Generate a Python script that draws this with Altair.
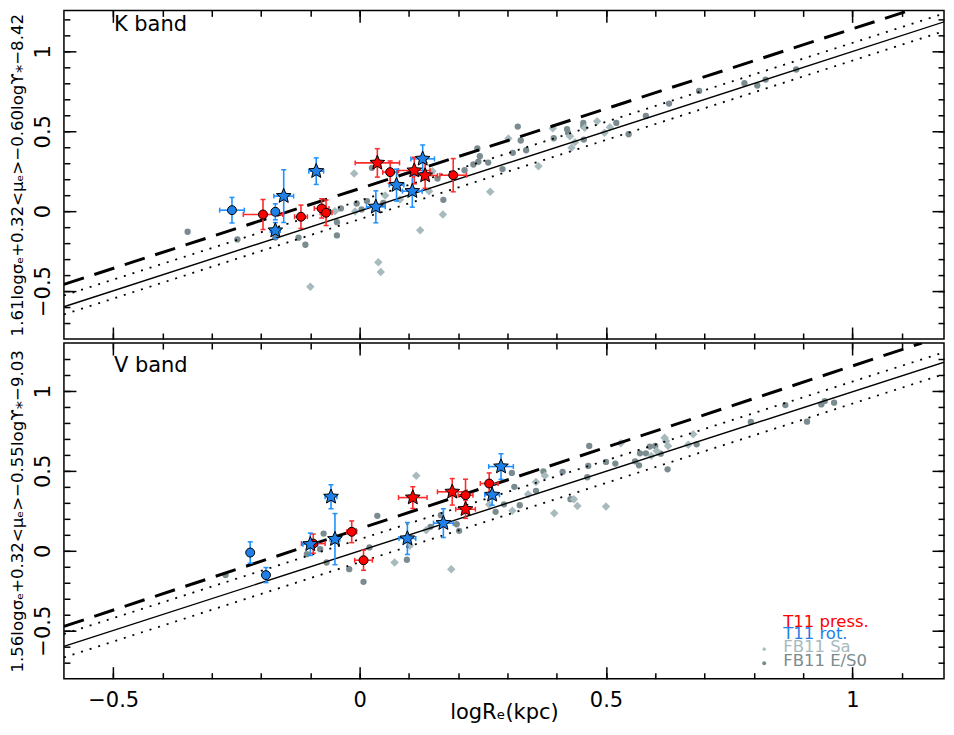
import math
import altair as alt
import pandas as pd

FONT = "DejaVu Sans"
RED = "#ff0000"
RED_ERR = "#ff2a2a"
BLUE = "#1f80e8"
BLUE_ERR = "#1e90ff"
ES0_COL = "#7b8c90"
SA_COL = "#a7babe"

# ---------------- K band ----------------
K_es0_x = [-0.349, -0.248, -0.171, -0.124, -0.110, -0.046, -0.046, -0.038, -0.006, 0.004,
           0.015, 0.025, 0.048, 0.158, 0.170, 0.213, 0.231, 0.239, 0.241, 0.244,
           0.261, 0.290, 0.311, 0.321, 0.327, 0.338, 0.394, 0.421, 0.423, 0.454,
           0.454, 0.455, 0.521, 0.546, 0.581, 0.628, 0.689, 0.781, 0.807, 0.824, 0.886]
K_es0_y = [-0.129, -0.177, -0.165, -0.166, -0.210, -0.069, -0.152, 0.017, 0.048, 0.011,
           0.063, 0.271, 0.052, 0.204, 0.071, 0.256, 0.292, 0.392, 0.309, 0.344,
           0.304, 0.263, 0.365, 0.529, 0.442, 0.381, 0.456, 0.513, 0.490, 0.552,
           0.531, 0.448, 0.552, 0.481, 0.596, 0.673, 0.752, 0.800, 0.786, 0.823, 0.886]
K_sa_x = [-0.100, -0.050, -0.009, -0.011, 0.052, 0.038, 0.043, 0.082, 0.123, 0.141,
          0.148, 0.169, 0.265, 0.302, 0.363, 0.392, 0.427, 0.430, 0.437, 0.457,
          0.482, 0.497, 0.508]
K_sa_y = [-0.473, 0.000, -0.002, 0.236, 0.098, -0.319, -0.381, 0.073, -0.119, 0.125,
          0.250, -0.021, 0.121, 0.454, 0.281, 0.519, 0.469, 0.396, 0.431, 0.521,
          0.563, 0.490, 0.525]

K_press_circ_x = [-0.196, -0.119, -0.077, -0.068, 0.062, 0.190]
K_press_circ_y = [-0.021, -0.035, 0.017, -0.010, 0.244, 0.225]
K_press_circ_xe = [0.040, 0.013, 0.015, 0.012, 0.015, 0.027]
K_press_circ_ye = [0.094, 0.073, 0.060, 0.080, 0.070, 0.104]

K_press_star_x = [0.036, 0.111, 0.133]
K_press_star_y = [0.302, 0.254, 0.223]
K_press_star_xe = [0.045, 0.032, 0.025]
K_press_star_ye = [0.089, 0.083, 0.080]

K_rot_circ_x = [-0.259, -0.171]
K_rot_circ_y = [0.006, -0.004]
K_rot_circ_xe = [0.025, 0.004]
K_rot_circ_ye = [0.080, 0.050]

K_rot_star_x = [-0.171, -0.154, -0.088, 0.033, 0.075, 0.107, 0.128]
K_rot_star_y = [-0.121, 0.094, 0.250, 0.027, 0.163, 0.125, 0.327]
K_rot_star_xe = [0.010, 0.020, 0.015, 0.019, 0.015, 0.020, 0.024]
K_rot_star_ye = [0.050, 0.165, 0.083, 0.100, 0.100, 0.100, 0.087]

# ---------------- V band ----------------
V_es0_x = [-0.272, -0.107, -0.080, -0.073, -0.067, -0.021, 0.008, 0.020, 0.036, 0.096,
           0.144, 0.165, 0.197, 0.202, 0.276, 0.293, 0.309, 0.314, 0.325, 0.358,
           0.373, 0.412, 0.428, 0.462, 0.464, 0.466, 0.500, 0.519, 0.559, 0.567,
           0.569, 0.581, 0.589, 0.600, 0.611, 0.625, 0.684, 0.794, 0.864, 0.908,
           0.937, 0.944, 0.963]
V_es0_y = [-0.152, -0.021, 0.010, 0.108, -0.073, -0.115, -0.194, 0.021, 0.219, -0.056,
           0.150, 0.223, 0.166, 0.125, 0.244, 0.291, 0.487, 0.400, 0.285, 0.375,
           0.496, 0.494, 0.323, 0.460, 0.531, 0.656, 0.556, 0.546, 0.560, 0.535,
           0.610, 0.610, 0.652, 0.656, 0.608, 0.510, 0.666, 0.806, 0.912, 0.808,
           0.916, 0.937, 0.927]
V_sa_x = [0.071, 0.102, 0.115, 0.135, 0.186, 0.263, 0.310, 0.342, 0.358, 0.376,
          0.395, 0.435, 0.442, 0.500, 0.530, 0.592, 0.603, 0.619, 0.622, 0.626,
          0.667, 0.677]
V_sa_y = [-0.073, 0.031, 0.469, 0.129, -0.115, 0.289, 0.250, 0.354, 0.431, 0.469,
          0.235, 0.323, 0.281, 0.277, 0.673, 0.594, 0.625, 0.708, 0.687, 0.656,
          0.664, 0.729]

V_press_circ_x = [-0.094, -0.016, 0.008, 0.215, 0.263]
V_press_circ_y = [0.045, 0.119, -0.059, 0.348, 0.421]
V_press_circ_xe = [0.024, 0.010, 0.018, 0.015, 0.018]
V_press_circ_ye = [0.060, 0.068, 0.063, 0.100, 0.066]

V_press_star_x = [0.108, 0.188, 0.215]
V_press_star_y = [0.333, 0.369, 0.260]
V_press_star_xe = [0.029, 0.030, 0.020]
V_press_star_ye = [0.068, 0.083, 0.057]

V_rot_circ_x = [-0.222, -0.190]
V_rot_circ_y = [-0.011, -0.152]
V_rot_circ_xe = [0.004, 0.004]
V_rot_circ_ye = [0.067, 0.047]

V_rot_star_x = [-0.100, -0.058, -0.050, 0.097, 0.170, 0.269, 0.287]
V_rot_star_y = [0.041, 0.338, 0.073, 0.077, 0.173, 0.350, 0.527]
V_rot_star_xe = [0.015, 0.012, 0.010, 0.017, 0.020, 0.015, 0.025]
V_rot_star_ye = [0.070, 0.075, 0.160, 0.100, 0.090, 0.065, 0.080]

# reference lines: solid / upper dotted / lower dotted / dashed (x end points, y end points)
K_solid_x, K_solid = [-0.6, 1.2], [-0.598, 1.198]
K_dot_hi_x, K_dot_hi = [-0.6, 1.2], [-0.527, 1.250]
K_dot_lo_x, K_dot_lo = [-0.6, 1.2], [-0.646, 1.140]
K_dash_x, K_dash = [-0.6, 1.116], [-0.458, 1.256]
V_solid_x, V_solid = [-0.6, 1.2], [-0.598, 1.194]
V_dot_hi_x, V_dot_hi = [-0.6, 1.2], [-0.520, 1.256]
V_dot_lo_x, V_dot_lo = [-0.6, 1.2], [-0.667, 1.119]
V_dash_x, V_dash = [-0.6, 1.141], [-0.473, 1.300]

legend_labels = ["T11 press.", "T11 rot.", "FB11 Sa", "FB11 E/S0"]
legend_colors = [RED, BLUE, SA_COL, ES0_COL]

K_title = "1.61logσₑ+0.32<μₑ>−0.60logϒ⁎−8.42"
V_title = "1.56logσₑ+0.32<μₑ>−0.55logϒ⁎−9.03"
X_title = "logRₑ(kpc)"

XMAJ = [-0.5, 0, 0.5, 1]
XMIN = [round(-0.5 + 0.1 * i, 1) for i in range(17)]
YMAJ = [-0.5, 0, 0.5, 1]
YMIN = [round(-0.7 + 0.1 * i, 1) for i in range(20)]

PANEL_W = 881
X_DOMAIN = [-0.6, 1.186]

# star symbol path
_pts = []
for k in range(10):
    a = -math.pi / 2 + k * math.pi / 5
    r = 1.0 if k % 2 == 0 else 0.45
    _pts.append(f"{r * math.cos(a):.3f},{r * math.sin(a):.3f}")
STAR = "M" + " L".join(_pts) + " Z"

COMMON = dict(domain=False, grid=False, tickColor="black", tickWidth=1.5,
              labelFont=FONT, labelColor="black", labelFontSize=21,
              titleFont=FONT, titleColor="black", titleFontWeight="normal",
              labelOverlap=False, labelFlush=False, labelBound=False)


def panel(band, es0x, es0y, sax, say, groups, lines, ytitle, ydom, height, bottom):
    xs = alt.Scale(domain=X_DOMAIN, nice=False, zero=False)
    ys = alt.Scale(domain=ydom, nice=False, zero=False)

    def X(f, axis=None):
        return alt.X(f, type="quantitative", scale=xs, axis=axis)

    def Y(f, axis=None):
        return alt.Y(f, type="quantitative", scale=ys, axis=axis)

    layers = []
    layers.append(alt.Chart(pd.DataFrame({"x": es0x, "y": es0y})).mark_circle(
        size=40, color=ES0_COL, opacity=1).encode(x=X("x"), y=Y("y")))
    layers.append(alt.Chart(pd.DataFrame({"x": sax, "y": say})).mark_point(
        shape="diamond", filled=True, size=72, color=SA_COL, opacity=1, strokeWidth=0
    ).encode(x=X("x"), y=Y("y")))

    # axes sets carried by the four lines
    xa_bmaj = alt.Axis(orient="bottom", values=XMAJ, tickSize=12, offset=-12, labels=bottom,
                       format="~g", labelPadding=11,
                       title=X_title if bottom else None, titleFontSize=21,
                       titleBaseline="alphabetic", titleY=52, **COMMON)
    xa_bmin = alt.Axis(orient="bottom", values=XMIN, tickSize=6, offset=-6, labels=False,
                       title=None, **COMMON)
    xa_tmaj = alt.Axis(orient="top", values=XMAJ, tickSize=12, offset=-12, labels=False,
                       title=None, **COMMON)
    xa_tmin = alt.Axis(orient="top", values=XMIN, tickSize=6, offset=-6, labels=False,
                       title=None, **COMMON)
    ya_lmaj = alt.Axis(orient="left", values=YMAJ, tickSize=12, offset=-12, labels=True,
                       format="~g", labelAngle=270, labelAlign="center",
                       labelBaseline="bottom", labelPadding=10,
                       title=ytitle, titleFontSize=16.6, titlePadding=7.5, **COMMON)
    ya_lmin = alt.Axis(orient="left", values=YMIN, tickSize=6, offset=-6, labels=False,
                       title=None, **COMMON)
    ya_rmaj = alt.Axis(orient="right", values=YMAJ, tickSize=12, offset=-12, labels=False,
                       title=None, **COMMON)
    ya_rmin = alt.Axis(orient="right", values=YMIN, tickSize=6, offset=-6, labels=False,
                       title=None, **COMMON)

    (sx, sy), (hx, hy), (lx, ly), (dx, dy) = lines
    specs = [
        (sx, sy, dict(strokeWidth=1.4), xa_bmaj, ya_lmaj),
        (hx, hy, dict(strokeWidth=1.8, strokeDash=[2, 7]), xa_bmin, ya_lmin),
        (lx, ly, dict(strokeWidth=1.8, strokeDash=[2, 7]), xa_tmaj, ya_rmaj),
        (dx, dy, dict(strokeWidth=3, strokeDash=[21, 11]), xa_tmin, ya_rmin),
    ]
    for xv, yv, style, xa, ya in specs:
        layers.append(alt.Chart(pd.DataFrame({"x": xv, "y": yv})).mark_line(
            clip=True, color="black", **style).encode(x=X("x", xa), y=Y("y", ya)))

    # error bars
    rows = []
    for g in groups:
        for xi, yi, xe, ye in zip(g["x"], g["y"], g["xe"], g["ye"]):
            rows.append({"x": xi, "y": yi, "xerr": xe, "yerr": ye, "ecol": g["ecol"]})
    err = pd.DataFrame(rows)
    base = alt.Chart(err).transform_calculate(
        x0="datum.x - datum.xerr", x1="datum.x + datum.xerr",
        y0="datum.y - datum.yerr", y1="datum.y + datum.yerr")
    col = alt.Color("ecol:N", scale=None)
    layers.append(base.mark_rule(strokeWidth=1.6).encode(
        x=X("x0"), x2="x1:Q", y=Y("y"), color=col))
    layers.append(base.mark_rule(strokeWidth=1.6).encode(
        x=X("x"), y=Y("y0"), y2="y1:Q", color=col))
    layers.append(base.transform_fold(["x0", "x1"], as_=["k", "xc"]).mark_tick(
        orient="vertical", size=5, thickness=1.5, opacity=1).encode(
        x=X("xc"), y=Y("y"), color=col))
    layers.append(base.transform_fold(["y0", "y1"], as_=["k", "yc"]).mark_tick(
        orient="horizontal", size=5, thickness=1.5, opacity=1).encode(
        x=X("x"), y=Y("yc"), color=col))

    # markers
    for g in groups:
        df = pd.DataFrame({"x": g["x"], "y": g["y"]})
        layers.append(alt.Chart(df).mark_point(
            shape=g["shape"], filled=True, fill=g["fill"], stroke="black",
            strokeWidth=1, size=g["size"], opacity=1, fillOpacity=1, strokeOpacity=1
        ).encode(x=X("x"), y=Y("y")))

    # band label
    layers.append(alt.Chart(pd.DataFrame({"t": [band]})).mark_text(
        x=50, y=21 if not bottom else 29, align="left", baseline="alphabetic",
        font=FONT, fontSize=21, color="black").encode(text="t:N"))

    if bottom:
        ys_txt = [284, 296.5, 309, 323.5]
        for lbl, c, yy in zip(legend_labels, legend_colors, ys_txt):
            layers.append(alt.Chart(pd.DataFrame({"t": [lbl]})).mark_text(
                x=720, y=yy, align="left", baseline="alphabetic", font=FONT,
                fontSize=16.5, color=c).encode(text="t:N"))
        layers.append(alt.Chart(pd.DataFrame({"t": ["Sa"]})).mark_point(
            x=701, y=306.5, shape="diamond", filled=True, size=18, color=SA_COL,
            opacity=1).encode(detail="t:N"))
        layers.append(alt.Chart(pd.DataFrame({"t": ["ES0"]})).mark_point(
            x=701, y=320.5, shape="circle", filled=True, size=16, color=ES0_COL,
            opacity=1).encode(detail="t:N"))

    return alt.layer(*layers).resolve_axis(x="independent", y="independent").properties(
        width=PANEL_W, height=height)


def groups_for(pc, ps, rc, rs):
    return [
        dict(x=pc[0], y=pc[1], xe=pc[2], ye=pc[3], ecol=RED_ERR, fill=RED, shape="circle", size=80),
        dict(x=ps[0], y=ps[1], xe=ps[2], ye=ps[3], ecol=RED_ERR, fill=RED, shape=STAR, size=240),
        dict(x=rc[0], y=rc[1], xe=rc[2], ye=rc[3], ecol=BLUE_ERR, fill=BLUE, shape="circle", size=80),
        dict(x=rs[0], y=rs[1], xe=rs[2], ye=rs[3], ecol=BLUE_ERR, fill=BLUE, shape=STAR, size=240),
    ]


K_groups = groups_for(
    (K_press_circ_x, K_press_circ_y, K_press_circ_xe, K_press_circ_ye),
    (K_press_star_x, K_press_star_y, K_press_star_xe, K_press_star_ye),
    (K_rot_circ_x, K_rot_circ_y, K_rot_circ_xe, K_rot_circ_ye),
    (K_rot_star_x, K_rot_star_y, K_rot_star_xe, K_rot_star_ye))
V_groups = groups_for(
    (V_press_circ_x, V_press_circ_y, V_press_circ_xe, V_press_circ_ye),
    (V_press_star_x, V_press_star_y, V_press_star_xe, V_press_star_ye),
    (V_rot_circ_x, V_rot_circ_y, V_rot_circ_xe, V_rot_circ_ye),
    (V_rot_star_x, V_rot_star_y, V_rot_star_xe, V_rot_star_ye))

top = panel("K band", K_es0_x, K_es0_y, K_sa_x, K_sa_y, K_groups,
            ((K_solid_x, K_solid), (K_dot_hi_x, K_dot_hi), (K_dot_lo_x, K_dot_lo),
             (K_dash_x, K_dash)), K_title, [-0.8, 1.256], 329, False)
bot = panel("V band", V_es0_x, V_es0_y, V_sa_x, V_sa_y, V_groups,
            ((V_solid_x, V_solid), (V_dot_hi_x, V_dot_hi), (V_dot_lo_x, V_dot_lo),
             (V_dash_x, V_dash)), V_title, [-0.8, 1.3], 336, True)

chart = alt.vconcat(top, bot, spacing=0).resolve_scale(
    x="independent", y="independent").resolve_axis(
    x="independent", y="independent").properties(
    padding={"left": 0, "right": 0, "top": 0, "bottom": 0},
    background="white").configure_view(stroke="black", strokeWidth=1.5)

chart.save("out.html", embed_options={"renderer": "svg", "actions": False})
